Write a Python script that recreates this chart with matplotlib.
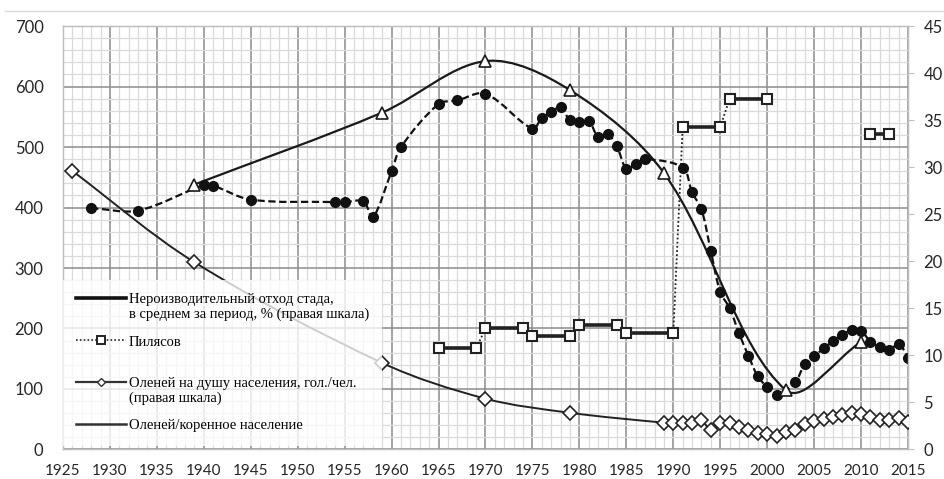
import numpy as np
import matplotlib
matplotlib.use("Agg")
import matplotlib.pyplot as plt
from matplotlib.path import Path
from matplotlib.patches import PathPatch
from matplotlib.lines import Line2D
from matplotlib.ticker import MultipleLocator

# поголовье оленей, тыс. (левая шкала), точки с пунктиром
herd_years = [1928, 1933, 1940, 1941, 1945, 1954, 1955, 1957, 1958, 1960, 1961,
              1965, 1967, 1970, 1975, 1976, 1977, 1978, 1979, 1980, 1981, 1982,
              1983, 1984, 1985, 1986, 1987, 1991, 1992, 1993, 1994, 1995, 1996,
              1997, 1998, 1999, 2000, 2001, 2003, 2004, 2005, 2006, 2007, 2008,
              2009, 2010, 2011, 2012, 2013, 2014, 2015]
herd_vals = [399, 395, 437, 436, 413, 409, 409, 410, 384, 460, 500,
             571, 577, 588, 530, 548, 558, 566, 544, 541, 543, 517,
             521, 501, 464, 472, 480, 466, 425, 397, 328, 260, 234,
             192, 155, 121, 103, 90, 112, 141, 154, 167, 179, 190,
             197, 196, 178, 169, 164, 175, 152]

# переписи (треугольники)
census_years = [1939, 1959, 1970, 1979, 1989, 2002, 2010]
census_vals = [438, 557, 642, 594, 457, 98, 178]

# Пилясов (пары: начало и конец периода)
pil_years = [1965, 1969, 1970, 1974, 1975, 1979, 1980, 1984, 1985, 1990,
             1991, 1995, 1996, 2000, 2011, 2013]
pil_vals = [167, 167, 200, 200, 187, 187, 206, 206, 192, 192,
            533, 533, 580, 580, 521, 521]

# оленей на душу населения (правая шкала)
percap_years = [1926, 1939, 1959, 1970, 1979, 1989, 1990, 1991, 1992, 1993,
                1994, 1995, 1996, 1997, 1998, 1999, 2000, 2001, 2002, 2003,
                2004, 2005, 2006, 2007, 2008, 2009, 2010, 2011, 2012, 2013,
                2014, 2015]
percap_vals = [29.6, 19.9, 9.2, 5.4, 3.9, 2.85, 2.85, 2.85, 2.85, 3.1,
               2.05, 2.85, 2.85, 2.4, 2.05, 1.7, 1.6, 1.45, 1.9, 2.05,
               2.7, 3.05, 3.25, 3.5, 3.7, 3.9, 3.8, 3.5, 3.1, 3.1,
               3.3, 2.9]

legend_labels = ["Нероизводительный отход стада,",
                 "в среднем за период, % (правая шкала)",
                 " ", "Пилясов", " ", " ",
                 "Оленей на душу населения, гол./чел.",
                 "(правая шкала)", " ",
                 "Оленей/коренное население"]


def smooth_path(ax, xs, ys):
    # сглаженная линия как в Excel (кривые Безье через точки)
    pts = np.column_stack([xs, ys]).astype(float)
    disp = ax.transData.transform(pts)
    n = len(pts)
    verts = [pts[0]]
    codes = [Path.MOVETO]
    for i in range(n - 1):
        i0 = max(i - 1, 0)
        i3 = min(i + 2, n - 1)
        d01 = np.hypot(*(disp[i] - disp[i0]))
        d12 = np.hypot(*(disp[i + 1] - disp[i]))
        d23 = np.hypot(*(disp[i3] - disp[i + 1]))
        c1 = pts[i] + (pts[i + 1] - pts[i0]) * d12 / (d01 + d12) / 3
        c2 = pts[i + 1] - (pts[i3] - pts[i]) * d12 / (d12 + d23) / 3
        verts += [c1, c2, pts[i + 1]]
        codes += [Path.CURVE4] * 3
    return Path(verts, codes)


fig = plt.figure(figsize=(9.44, 4.79), dpi=100)
ax = fig.add_axes([0.0667, 0.0616, 0.8952, 0.8841])
ax2 = ax.twinx()

ax.set_xlim(1925, 2015)
ax.set_ylim(0, 700)
ax2.set_ylim(0, 45)

ax.xaxis.set_major_locator(MultipleLocator(5))
ax.xaxis.set_minor_locator(MultipleLocator(1))
ax.yaxis.set_major_locator(MultipleLocator(100))
ax.yaxis.set_minor_locator(MultipleLocator(20))
ax2.yaxis.set_major_locator(MultipleLocator(5))

ax.set_axisbelow(True)
ax.grid(which="minor", color="#dadada", lw=0.9)
ax.grid(which="major", color="#8c8c8c", lw=1.1)

for a in (ax, ax2):
    for s in a.spines.values():
        s.set_color("#bfbfbf")
        s.set_linewidth(0.9)

ax.tick_params(axis="x", which="both", length=0, pad=10.5, labelsize=11, labelcolor="#262626")
ax.tick_params(axis="y", which="both", length=0, pad=14, labelsize=12, labelcolor="#262626")
ax2.tick_params(axis="y", which="major", length=4, color="#bfbfbf", pad=7,
                labelsize=12, labelcolor="#262626")
for lab in ax.get_xticklabels() + ax.get_yticklabels() + ax2.get_yticklabels():
    lab.set_fontfamily("Lato")

# переписи: сплошная сглаженная линия с треугольниками
ax.add_patch(PathPatch(smooth_path(ax, census_years, census_vals), fill=False,
                       ec="#1a1a1a", lw=1.6, zorder=3))
ax.plot(census_years, census_vals, ls="none", marker="^", ms=9, mfc="white",
        mec="#1a1a1a", mew=1.2, zorder=5)

# поголовье: пунктир с точками
ax.add_patch(PathPatch(smooth_path(ax, herd_years, herd_vals), fill=False,
                       ec="#111111", lw=1.6, ls=(0, (3.3, 1.6)), zorder=4))
ax.plot(herd_years, herd_vals, ls="none", marker="o", ms=7, color="#111111", zorder=4)

# Пилясов: точечная линия и отрезки по периодам
pil_x = np.array(pil_years)
pil_y = np.array(pil_vals, dtype=float)
first = pil_x <= 2000
ax.plot(pil_x[first], pil_y[first], color="#222222", lw=1.3, ls=(0, (1, 1.3)), zorder=3)
for k in range(0, len(pil_years), 2):
    ax.plot(pil_years[k:k + 2], pil_vals[k:k + 2], color="#222222", lw=2.6, zorder=3)
ax.plot(pil_x, pil_y, ls="none", marker="s", ms=7.5, mfc="white", mec="#222222",
        mew=1.5, zorder=6)

# оленей на душу населения: правая шкала
ax2.add_patch(PathPatch(smooth_path(ax2, percap_years, percap_vals), fill=False,
                        ec="#222222", lw=1.4, zorder=3))
ax2.plot(percap_years, percap_vals, ls="none", marker="D", ms=7, mfc="white",
         mec="#222222", mew=1.2, zorder=4)

# легенда
blank = Line2D([], [], color="none")
handles = [
    Line2D([], [], color="#111111", lw=2.6),
    blank, blank,
    Line2D([], [], color="#222222", lw=1.2, ls=(0, (1, 1.3)), marker="s", ms=6,
           mfc="white", mec="#222222", mew=1.4),
    blank, blank,
    Line2D([], [], color="#333333", lw=1.6, marker="D", ms=4, mfc="white",
           mec="#333333", mew=1.0),
    blank, blank,
    Line2D([], [], color="#333333", lw=1.8),
]
leg = ax2.legend(handles, legend_labels, loc="upper left", bbox_to_anchor=(0, 0.40),
                 borderaxespad=0, borderpad=0.9, labelspacing=0.05, handlelength=3.4,
                 handletextpad=0.2, frameon=True, fancybox=False,
                 prop={"family": "Liberation Serif", "size": 10.5})
leg.get_frame().set_facecolor("white")
leg.get_frame().set_alpha(0.78)
leg.get_frame().set_edgecolor("none")

# рамка области диаграммы
fig.add_artist(Line2D([0.005, 1.0], [0.977, 0.977], color="#d9d9d9", lw=1.0))

fig.savefig("out.png", dpi=100)
